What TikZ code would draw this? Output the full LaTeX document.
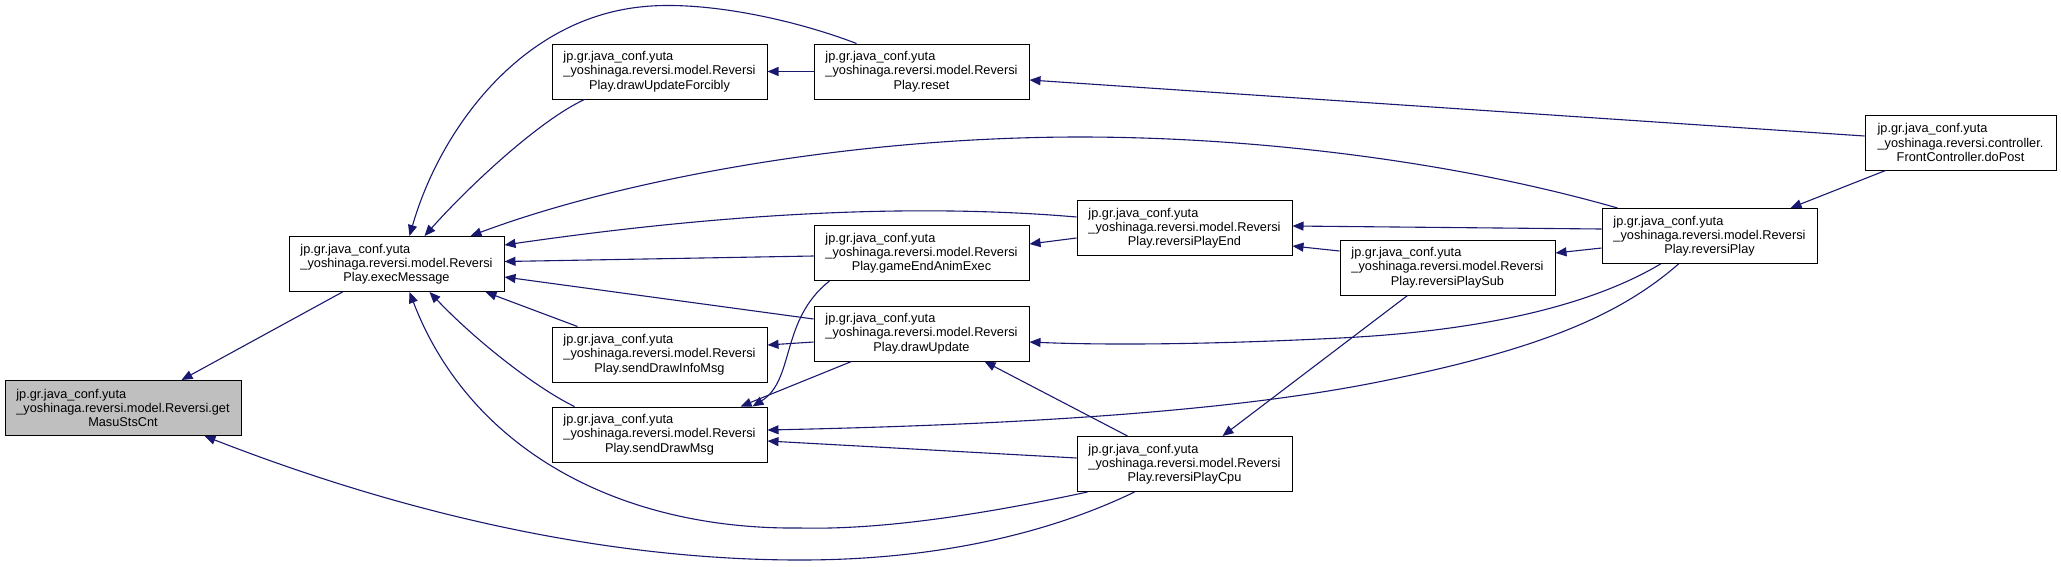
\documentclass[tikz,border=0pt]{standalone}
\usepackage{fontspec}
\setmainfont{Liberation Sans}
\usetikzlibrary{arrows.meta}
\newsavebox{\dlbox}
\newcommand{\dlab}[3]{\sbox{\dlbox}{#2}\makebox[\wd\dlbox][l]{#1}\\#2\\#3}
\definecolor{edgeblue}{HTML}{191970}
\definecolor{hilite}{HTML}{BFBFBF}
\begin{document}
\begin{tikzpicture}[x=1pt,y=-1pt,
  fn/.style={draw=black, line width=1pt, fill=white, rectangle, inner sep=0pt,
    minimum width=215pt, minimum height=55pt, align=center,
    font=\fontsize{12.75}{14.3}\selectfont},
  call/.style={draw=edgeblue, line width=1.1pt, -{Triangle[length=11pt,width=9pt]}}
]
\fill[white] (0,0) rectangle (2061,566);
\useasboundingbox (0,0) rectangle (2061,566);

\node[fn, fill=hilite, minimum width=236pt] (G) at (123,408) {\dlab{jp.gr.java\_conf.yuta}{\_yoshinaga.reversi.model.Reversi.get}{MasuStsCnt}};
\node[fn] (E) at (396.5,264) {\dlab{jp.gr.java\_conf.yuta}{\_yoshinaga.reversi.model.Reversi}{Play.execMessage}};
\node[fn] (F) at (659.5,71.5) {\dlab{jp.gr.java\_conf.yuta}{\_yoshinaga.reversi.model.Reversi}{Play.drawUpdateForcibly}};
\node[fn] (R) at (921.5,71.5) {\dlab{jp.gr.java\_conf.yuta}{\_yoshinaga.reversi.model.Reversi}{Play.reset}};
\node[fn] (GA) at (921.5,253) {\dlab{jp.gr.java\_conf.yuta}{\_yoshinaga.reversi.model.Reversi}{Play.gameEndAnimExec}};
\node[fn] (DI) at (659.5,354.5) {\dlab{jp.gr.java\_conf.yuta}{\_yoshinaga.reversi.model.Reversi}{Play.sendDrawInfoMsg}};
\node[fn] (DM) at (659.5,434.5) {\dlab{jp.gr.java\_conf.yuta}{\_yoshinaga.reversi.model.Reversi}{Play.sendDrawMsg}};
\node[fn] (DU) at (921.5,333.5) {\dlab{jp.gr.java\_conf.yuta}{\_yoshinaga.reversi.model.Reversi}{Play.drawUpdate}};
\node[fn] (PE) at (1184.5,228) {\dlab{jp.gr.java\_conf.yuta}{\_yoshinaga.reversi.model.Reversi}{Play.reversiPlayEnd}};
\node[fn] (PS) at (1447.5,267.5) {\dlab{jp.gr.java\_conf.yuta}{\_yoshinaga.reversi.model.Reversi}{Play.reversiPlaySub}};
\node[fn] (PC) at (1184.5,464) {\dlab{jp.gr.java\_conf.yuta}{\_yoshinaga.reversi.model.Reversi}{Play.reversiPlayCpu}};
\node[fn] (P) at (1709.5,236) {\dlab{jp.gr.java\_conf.yuta}{\_yoshinaga.reversi.model.Reversi}{Play.reversiPlay}};
\node[fn, minimum width=191pt] (FC) at (1960.5,142.5) {\dlab{jp.gr.java\_conf.yuta}{\_yoshinaga.reversi.controller.}{FrontController.doPost}};

% edges: caller -> callee (arrowhead at callee)
\draw[call] ([xshift=54pt]E.south west) -- ([xshift=177pt]G.north west);
\draw[call] ([xshift=58pt]PC.south west) .. controls (1060,528) and (950,560) .. (800,560)
  .. controls (620,560) and (420,520) .. ([xshift=200pt]G.south west);
\draw[call] ([xshift=33pt]F.south west) .. controls (540,120) and (470,185) .. ([xshift=136pt]E.north west);
\draw[call] ([xshift=43pt]R.north west) .. controls (790,18) and (700,0) .. (640,7)
  .. controls (520,20) and (440,130) .. ([xshift=121pt]E.north west);
\draw[call] ([xshift=16pt]P.north west) .. controls (1450,160) and (1250,137) .. (1080,137)
  .. controls (850,137) and (620,180) .. ([xshift=-34pt]E.north east);
\draw[call] ([yshift=11pt]PE.west) .. controls (960,207) and (780,205) .. ([yshift=19pt]E.east);
\draw[call] ([yshift=-3pt]GA.west) -- ([yshift=2.5pt]E.east);
\draw[call] ([yshift=14.5pt]DU.west) -- ([yshift=-13pt]E.east);
\draw[call] ([xshift=26pt]DI.north west) -- ([xshift=-19pt]E.south east);
\draw[call] ([xshift=23pt]DM.north west) .. controls (540,390) and (480,345) .. ([xshift=141pt]E.south west);
\draw[call] ([xshift=11pt]PC.south west) .. controls (980,515) and (880,530) .. (800,528)
  .. controls (620,530) and (470,450) .. ([xshift=121pt]E.south west);
\draw[call] ([yshift=-8.5pt]DU.west) -- ([yshift=9.5pt]DI.east);
\draw[call] ([xshift=38pt]DU.south west) -- ([xshift=-27pt]DM.north east);
\draw[call] ([xshift=16pt]GA.south west) .. controls (780,320) and (795,380) .. ([xshift=-15pt]DM.north east);
\draw[call] ([xshift=77pt]P.south west) .. controls (1620,315) and (1540,350) .. (1373,383)
  .. controls (1200,417) and (950,426) .. ([yshift=4.5pt]DM.east);
\draw[call] ([yshift=6pt]PC.west) -- ([yshift=-6.5pt]DM.east);
\draw[call] (R.west) -- (F.east);
\draw[call] ([yshift=6.5pt]FC.west) -- ([yshift=-8.5pt]R.east);
\draw[call] ([yshift=-10pt]PE.west) -- ([yshift=9pt]GA.east);
\draw[call] ([xshift=59pt]P.south west) .. controls (1600,300) and (1500,330) .. (1340,338)
  .. controls (1200,345) and (1100,345) .. ([yshift=-8.5pt]DU.east);
\draw[call] ([yshift=7pt]P.west) -- ([yshift=2pt]PE.east);
\draw[call] ([yshift=16.5pt]PS.west) -- ([yshift=-18pt]PE.east);
\draw[call] ([yshift=-12pt]P.west) -- ([yshift=14.5pt]PS.east);
\draw[call] ([xshift=68pt]PS.south west) -- ([xshift=146pt]PC.north west);
\draw[call] ([xshift=51pt]PC.north west) -- ([xshift=171pt]DU.south west);
\draw[call] ([xshift=21pt]FC.south west) -- ([xshift=-27pt]P.north east);
\end{tikzpicture}
\end{document}
